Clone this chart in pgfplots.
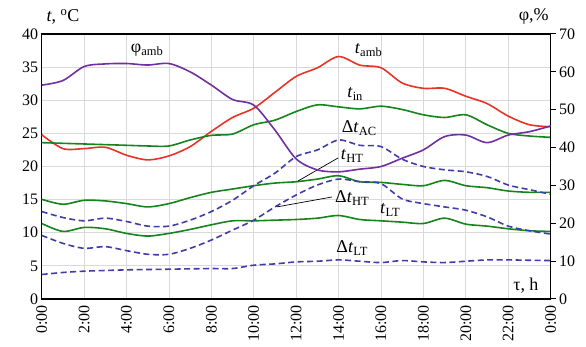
\documentclass[border=0pt]{standalone}
\usepackage{pgfplots}
\pgfplotsset{compat=1.18}
\usepackage{fontspec}
\setmainfont{Liberation Serif}
\definecolor{cred}{RGB}{232,52,40}
\definecolor{cgreen}{RGB}{22,132,28}
\definecolor{cpurple}{RGB}{112,48,160}
\definecolor{cdash}{RGB}{64,60,170}
\definecolor{cgrid}{RGB}{217,217,217}
\newcommand{\lbl}{\fontsize{18}{20}\selectfont}
\newcommand{\sub}[1]{\raisebox{-0.35ex}{\fontsize{12.5}{14}\selectfont #1}}
\begin{document}
\begin{tikzpicture}
\useasboundingbox (-41.7pt,-48pt) rectangle (544.3pt,299pt);
\begin{axis}[
  width=509pt, height=265pt, scale only axis,
  xmin=0, xmax=24, ymin=0, ymax=40,
  xtick={0,2,...,24},
  xticklabels={0:00,2:00,4:00,6:00,8:00,10:00,12:00,14:00,16:00,18:00,20:00,22:00,0:00},
  ytick={0,5,...,40},
  x tick label style={rotate=90, anchor=east, xshift=-3pt},
  ticklabel style={font=\fontsize{16}{18}\selectfont},
  /pgf/number format/assume math mode=true,
  major tick length=0pt,
  grid=major, grid style={cgrid, line width=0.8pt},
  axis line style={black, line width=1.2pt},
  clip=false,
  every axis plot/.append style={smooth, line width=1.6pt, no markers},
]
% t_amb
\addplot[cred] coordinates {(0,24.8)(1,22.7)(2,22.7)(3,22.9)(4,21.7)(5,21.0)(6,21.6)(7,23.0)(8,25.3)(9,27.4)(10,28.8)(11,31.2)(12,33.6)(13,34.9)(14,36.6)(15,35.3)(16,34.9)(17,32.6)(18,31.8)(19,31.8)(20,30.6)(21,29.5)(22,27.6)(23,26.3)(24,26.0)};
% t_in
\addplot[cgreen] coordinates {(0,23.6)(1,23.5)(2,23.4)(3,23.3)(4,23.2)(5,23.1)(6,23.1)(7,24.0)(8,24.7)(9,24.9)(10,26.3)(11,27.0)(12,28.3)(13,29.3)(14,29.0)(15,28.7)(16,29.1)(17,28.6)(18,27.8)(19,27.4)(20,27.8)(21,26.3)(22,25.0)(23,24.6)(24,24.4)};
% t_HT
\addplot[cgreen] coordinates {(0,15.05)(1,14.3)(2,14.9)(3,14.8)(4,14.4)(5,13.9)(6,14.4)(7,15.3)(8,16.1)(9,16.6)(10,17.1)(11,17.5)(12,17.7)(13,18.1)(14,18.6)(15,17.7)(16,17.6)(17,17.3)(18,17.1)(19,17.9)(20,17.1)(21,16.8)(22,16.3)(23,16.1)(24,16.1)};
% t_LT
\addplot[cgreen] coordinates {(0,11.4)(1,10.2)(2,10.8)(3,10.6)(4,9.9)(5,9.5)(6,9.9)(7,10.5)(8,11.2)(9,11.8)(10,11.8)(11,11.9)(12,12.0)(13,12.2)(14,12.6)(15,12.0)(16,11.8)(17,11.6)(18,11.4)(19,12.2)(20,11.3)(21,11.0)(22,10.6)(23,10.3)(24,10.2)};
% Delta t_AC
\addplot[cdash, dash pattern=on 6pt off 3.5pt] coordinates {(0,13.2)(1,12.3)(2,11.8)(3,12.2)(4,11.7)(5,11.0)(6,11.0)(7,11.9)(8,13.2)(9,14.9)(10,17.1)(11,19.0)(12,21.5)(13,22.5)(14,24.0)(15,23.2)(16,23.0)(17,21.1)(18,20.0)(19,19.5)(20,19.2)(21,18.5)(22,17.2)(23,16.5)(24,15.8)};
% Delta t_HT
\addplot[cdash, dash pattern=on 6pt off 3.5pt] coordinates {(0,9.6)(1,8.4)(2,7.65)(3,7.9)(4,7.3)(5,6.75)(6,6.75)(7,7.65)(8,8.9)(9,10.4)(10,11.9)(11,13.9)(12,15.7)(13,17.2)(14,18.1)(15,17.7)(16,17.4)(17,15.1)(18,14.4)(19,13.9)(20,13.4)(21,12.4)(22,11.0)(23,10.3)(24,9.8)};
% Delta t_LT
\addplot[cdash, dash pattern=on 6pt off 3.5pt] coordinates {(0,3.7)(1,4.0)(2,4.2)(3,4.3)(4,4.4)(5,4.45)(6,4.5)(7,4.55)(8,4.6)(9,4.6)(10,5.1)(11,5.3)(12,5.6)(13,5.7)(14,5.9)(15,5.7)(16,5.5)(17,5.8)(18,5.6)(19,5.5)(20,5.7)(21,5.9)(22,5.9)(23,5.85)(24,5.8)};
% labels
\node[font=\lbl] at (axis cs:4.96,37.6) {φ\sub{amb}};
\node[font=\lbl] at (axis cs:15.4,37.6) {\textit{t}\sub{amb}};
\node[font=\lbl] at (axis cs:14.77,30.9) {\textit{t}\sub{in}};
\node[font=\lbl] at (axis cs:14.96,25.8) {Δ\textit{t}\sub{AC}};
\node[font=\lbl] at (axis cs:14.63,21.6) {\textit{t}\sub{HT}};
\node[font=\lbl] at (axis cs:14.63,15.2) {Δ\textit{t}\sub{HT}};
\node[font=\lbl] at (axis cs:16.42,13.4) {\textit{t}\sub{LT}};
\node[font=\lbl] at (axis cs:14.63,7.7) {Δ\textit{t}\sub{LT}};
\node[font=\lbl] at (axis cs:22.83,1.96) {τ, h};
\draw[black, line width=0.7pt] (axis cs:13.98,21.3) -- (axis cs:12.08,17.8);
\draw[black, line width=0.7pt] (axis cs:13.69,15.4) -- (axis cs:11.09,13.9);
\node[font=\lbl] at (axis cs:1.0,42.6) {\textit{t}, \textsuperscript{o}C};
\node[font=\lbl] at (axis cs:23.2,42.7) {φ,\%};
\end{axis}
\begin{axis}[
  width=509pt, height=265pt, scale only axis,
  xmin=0, xmax=24, ymin=0, ymax=70,
  axis x line=none, axis y line*=right,
  ytick={0,10,...,70},
  ticklabel style={font=\fontsize{16}{18}\selectfont},
  /pgf/number format/assume math mode=true,
  tick align=outside, major tick length=5pt,
  tick style={black, line width=1pt},
  axis line style={black, line width=1.2pt},
]
\addplot[cpurple, smooth, line width=1.6pt, no markers] coordinates {(0,56.5)(1,57.7)(2,61.4)(3,62.1)(4,62.2)(5,61.8)(6,62.2)(7,60.0)(8,56.5)(9,52.7)(10,51.2)(11,44.6)(12,37.0)(13,34.1)(14,33.6)(15,34.3)(16,35.0)(17,37.2)(18,39.4)(19,42.9)(20,43.3)(21,41.3)(22,43.3)(23,44.2)(24,45.7)};
\end{axis}
\end{tikzpicture}
\end{document}
